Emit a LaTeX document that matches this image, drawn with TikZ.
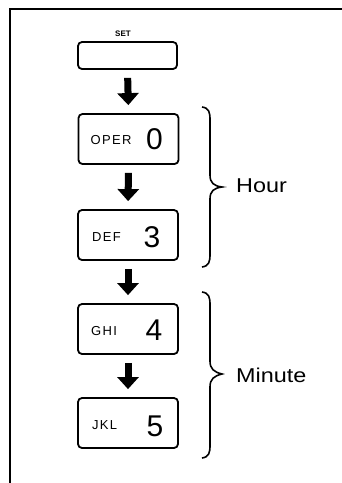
\documentclass[tikz,border=0pt]{standalone}
\usepackage{fontspec}
\setmainfont{Liberation Sans}
\usetikzlibrary{arrows.meta,calc}
\begin{document}
\begin{tikzpicture}[x=1pt,y=-1pt,
  keybox/.style={draw, line width=1.8pt, rounded corners=4pt, minimum width=100pt, minimum height=50pt, inner sep=0pt},
  flow/.style={line width=7pt, -{Triangle[length=12pt,width=21pt]}, shorten <=8pt, shorten >=8pt},
  bracepath/.style={line width=1.6pt},
  small/.style={font=\fontsize{13}{13}\selectfont\addfontfeature{LetterSpace=10}, anchor=west, inner sep=0pt},
  digit/.style={font=\fontsize{30}{30}\selectfont, inner sep=0pt},
  grouplabel/.style={font=\fontsize{20}{20}\selectfont\addfontfeature{FakeStretch=1.17}, anchor=base west, inner sep=0pt}]
\useasboundingbox (0,0) rectangle (342,483);
% partial frame
\draw[line width=1.8pt] (10,483) -- (10,9) -- (342,9);
% keys
\node[keybox, minimum width=99pt, minimum height=27pt] (set) at (127.5,55.5) {};
\node[font=\bfseries\fontsize{8}{8}\selectfont, inner sep=0pt] (setlbl) at (123,33.5) {SET};
\node[keybox] (oper) at (128.5,139) {};
\node[keybox] (def) at (128,235) {};
\node[keybox] (ghi) at (128,329) {};
\node[keybox] (jkl) at (128,423) {};
\node[small] (operl) at ($(oper.center)+(-38,1)$) {OPER};
\node[digit] (operd) at ($(oper.center)+(26,0)$) {0};
\node[small] (defl) at ($(def.center)+(-36,2)$) {DEF};
\node[digit] (defd) at ($(def.center)+(24,2)$) {3};
\node[small] (ghil) at ($(ghi.center)+(-37,2)$) {GHI};
\node[digit] (ghid) at ($(ghi.center)+(26,1)$) {4};
\node[small] (jkll) at ($(jkl.center)+(-36,2)$) {JKL};
\node[digit] (jkld) at ($(jkl.center)+(27,3)$) {5};
% arrows
\draw[flow] (set.south) -- (oper.north);
\draw[flow] (oper.south) -- (def.north);
\draw[flow] (def.south) -- (ghi.north);
\draw[flow] (ghi.south) -- (jkl.north);
% braces
\draw[bracepath] (202,107) .. controls (209,108) and (210,112) .. (210,120) -- (210,175)
  .. controls (210,183) and (214,186) .. (222,187)
  .. controls (214,188) and (210,191) .. (210,199) -- (210,254)
  .. controls (210,262) and (209,266) .. (202,267);
\draw[bracepath] (202,292) .. controls (209,293) and (210,297) .. (210,305) -- (210,361)
  .. controls (210,369) and (214,372) .. (222,374)
  .. controls (214,376) and (210,379) .. (210,387) -- (210,445)
  .. controls (210,453) and (209,457) .. (202,458);
\node[grouplabel] (hour) at (236,192) {Hour};
\node[grouplabel] (minute) at (236,382) {Minute};
\end{tikzpicture}
\end{document}
